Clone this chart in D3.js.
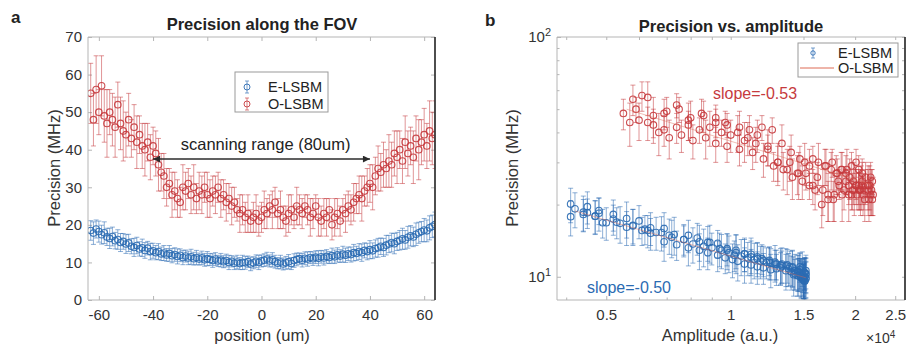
<!DOCTYPE html>
<html>
<head>
<meta charset="utf-8">
<script src="https://cdn.jsdelivr.net/npm/d3@7"></script>
<style>
  body { margin: 0; background: #fff; }
  svg { display: block; font-family: "Liberation Sans", Arial, Helvetica, sans-serif; }
</style>
</head>
<body>
<svg id="chart" width="907" height="345"></svg>
<script>
// sample positions along the FOV (um)
var positions = [
  -63,-62,-61,-60,-59,-58,-57,-56,-55,-54,-53,-52,-51,-50,-49,-48,
  -47,-46,-45,-44,-43,-42,-41,-40,-39,-38,-37,-36,-35,-34,-33,-32,
  -31,-30,-29,-28,-27,-26,-25,-24,-23,-22,-21,-20,-19,-18,-17,-16,
  -15,-14,-13,-12,-11,-10,-9,-8,-7,-6,-5,-4,-3,-2,-1,0,
  1,2,3,4,5,6,7,8,9,10,11,12,13,14,15,16,
  17,18,19,20,21,22,23,24,25,26,27,28,29,30,31,32,
  33,34,35,36,37,38,39,40,41,42,43,44,45,46,47,48,
  49,50,51,52,53,54,55,56,57,58,59,60,61,62,63,64];

// precision (MHz)
var eLsbm = [
  18.5,17.8,18.9,18.2,17.4,17.9,16.8,16.4,16.9,15.8,16.1,15.3,15.6,14.9,15.2,14.3,
  14.0,14.5,13.6,13.9,13.2,13.8,12.9,13.1,12.6,12.9,12.3,12.5,12.0,12.4,11.8,12.1,
  11.6,11.9,11.3,11.7,11.2,11.5,11.0,11.3,10.9,11.2,10.7,11.0,10.8,10.5,10.9,10.4,
  10.6,10.2,10.5,10.0,10.3,9.8,10.1,9.7,10.0,9.9,10.2,9.6,9.9,10.3,10.0,10.4,
  10.6,10.9,10.4,10.7,10.2,9.8,10.1,9.6,9.9,10.2,9.7,10.5,10.8,11.0,10.6,11.1,
  10.9,11.3,11.0,11.4,11.1,11.5,11.2,11.6,11.3,11.8,11.5,12.0,11.7,12.2,11.9,12.3,
  12.1,12.6,12.4,12.9,12.6,13.2,12.9,13.4,13.1,13.7,13.9,14.3,14.0,14.6,14.9,15.3,
  15.0,15.6,15.9,16.3,16.0,16.7,17.1,16.8,17.5,17.9,18.2,18.6,18.4,19.2,19.6,20.1];
var eLsbmErr = [
  2.6,3.0,2.4,2.8,2.5,2.9,2.3,2.7,2.5,2.2,2.6,2.4,2.1,2.5,2.3,2.0,
  2.4,2.2,1.9,2.3,2.1,1.8,2.2,2.0,1.9,2.1,1.8,2.0,1.7,2.1,1.9,1.8,
  2.0,1.7,1.9,1.6,1.8,2.0,1.7,1.9,1.6,1.8,1.7,1.9,1.6,1.8,1.7,1.5,
  1.8,1.6,1.7,1.9,1.5,1.7,1.8,1.6,1.9,1.7,1.5,1.8,1.6,1.7,1.9,1.6,
  1.7,1.8,1.6,1.9,1.7,1.5,1.8,1.6,1.7,1.9,1.6,1.8,1.7,1.5,1.8,1.7,
  1.9,1.6,1.8,1.7,2.0,1.7,1.9,1.8,1.6,2.0,1.8,1.9,1.7,2.1,1.9,1.8,
  2.0,2.2,1.9,2.1,2.3,2.0,2.2,2.4,2.1,2.3,2.5,2.2,2.4,2.6,2.3,2.5,
  2.7,2.4,2.6,2.8,2.5,2.9,2.7,2.6,3.0,2.8,2.7,3.1,2.9,3.2,3.0,3.3];
var oLsbm = [
  55,48,56,50,57,49,47,50,48,46,52,47,45,44,48,43,
  46,42,44,41,40,42,38,41,39,36,34,33,30,31,28,29,
  27,26,30,29,31,28,30,27,29,28,30,28,27,29,28,30,
  27,28,26,27,25,26,24,23,24,22,23,21,22,23,21,22,
  24,23,25,24,26,23,24,22,21,23,24,22,25,24,23,25,
  24,22,23,25,22,21,23,22,24,20,22,23,21,24,23,25,
  24,26,27,28,27,29,30,31,30,33,35,34,36,35,37,36,
  39,38,40,37,42,39,41,38,43,40,42,44,41,45,43,44];
var oLsbmErr = [
  8,7,9,6,8,7,9,6,7,8,6,7,8,6,7,5,
  6,7,5,6,7,5,6,5,6,7,5,6,5,4,6,5,
  5,4,6,5,4,5,6,4,5,5,4,6,5,4,5,4,
  5,4,5,4,5,4,3,5,4,4,5,3,4,5,4,4,
  5,4,3,5,4,4,5,3,4,5,4,3,5,4,4,3,
  4,5,4,3,5,4,4,5,3,4,5,4,4,3,5,4,
  4,5,4,5,6,4,5,5,6,5,6,5,6,5,7,6,
  6,7,5,6,7,6,5,7,6,8,6,7,6,8,7,9];

// amplitude (x10^4 a.u.) of the same samples
var eAmplitude = [
  0.45,0.41,0.48,0.44,0.52,0.47,0.49,0.58,0.53,0.62,0.56,0.66,0.61,0.71,0.64,0.77,
  0.69,0.83,0.74,0.88,0.79,0.93,0.84,0.98,0.88,1.03,0.93,1.08,0.97,1.12,1.01,1.16,
  1.04,1.19,1.08,1.24,1.12,1.28,1.16,1.33,1.20,1.37,1.25,1.41,1.29,1.45,1.32,1.47,
  1.36,1.49,1.40,1.51,1.43,1.52,1.46,1.50,1.48,1.52,1.47,1.51,1.49,1.52,1.50,1.51,
  1.52,1.49,1.51,1.47,1.52,1.50,1.45,1.51,1.48,1.42,1.50,1.46,1.38,1.47,1.43,1.33,
  1.41,1.29,1.39,1.25,1.36,1.22,1.32,1.18,1.28,1.14,1.24,1.10,1.20,1.06,1.16,1.02,
  1.12,0.99,1.08,0.95,1.03,0.90,0.98,0.86,0.94,0.81,0.89,0.77,0.84,0.72,0.79,0.68,
  0.73,0.63,0.69,0.58,0.64,0.54,0.60,0.50,0.56,0.47,0.52,0.44,0.48,0.42,0.45,0.41];
var oAmplitude = [
  0.58,0.55,0.63,0.59,0.61,0.70,0.65,0.75,0.69,0.80,0.74,0.86,0.79,0.92,0.85,0.98,
  0.92,1.05,0.97,1.11,1.04,1.19,1.10,1.26,1.16,1.33,1.23,1.40,1.30,1.47,1.37,1.55,
  1.45,1.62,1.51,1.69,1.58,1.75,1.63,1.81,1.70,1.86,1.76,1.91,1.80,1.96,1.85,2.01,
  1.90,2.04,1.94,2.08,1.98,2.12,2.01,2.15,2.04,2.18,2.06,2.20,2.09,2.19,2.11,2.21,
  2.17,2.10,2.20,2.07,2.18,2.04,2.15,2.02,2.16,1.99,2.12,1.96,2.08,1.93,2.05,1.90,
  2.01,1.86,1.97,1.82,1.93,1.77,1.88,1.72,1.83,1.66,1.78,1.60,1.72,1.55,1.67,1.49,
  1.58,1.41,1.52,1.34,1.46,1.27,1.39,1.20,1.30,1.13,1.23,1.05,1.15,0.98,1.08,0.92,
  1.00,0.87,0.95,0.81,0.89,0.76,0.84,0.71,0.79,0.67,0.74,0.63,0.69,0.60,0.65,0.57];

// power-law fits (amplitude, precision)
var eFit = [[0.42, 18.8], [1.52, 9.9]];
var oFit = [[0.56, 50], [2.2, 24.2]];

var seriesNames = ["E-LSBM", "O-LSBM"];
var slopeLabels = ["slope=-0.50", "slope=-0.53"];

var xTicksA = [-60, -40, -20, 0, 20, 40, 60];
var yTicksA = [0, 10, 20, 30, 40, 50, 60, 70];
var xTicksB = [0.5, 1, 1.5, 2, 2.5];
var xMinorB = [0.4, 0.6, 0.7, 0.8, 0.9];
var yTicksB = [10, 100];
var yMinorB = [20, 30, 40, 50, 60, 70, 80, 90];

var blue = "#2b6bb2", red = "#c63a3d", fitColor = "#dd6a55";
var axisGray = "#b5b5b5", textGray = "#333333";

var svg = d3.select("#chart");
svg.append("rect").attr("width", 907).attr("height", 345).attr("fill", "#fff");

var defs = svg.append("defs");
defs.append("marker")
  .attr("id", "arrow")
  .attr("viewBox", "0 0 10 10")
  .attr("refX", 10).attr("refY", 5)
  .attr("markerWidth", 9).attr("markerHeight", 7)
  .attr("markerUnits", "userSpaceOnUse")
  .attr("orient", "auto-start-reverse")
  .append("path")
  .attr("d", "M0,0 L10,5 L0,10 z")
  .attr("fill", "#2b2b2b");

function clip(id, x0, y0, x1, y1) {
  defs.append("clipPath").attr("id", id)
    .append("rect").attr("x", x0).attr("y", y0).attr("width", x1 - x0).attr("height", y1 - y0);
}

function styleAxis(g) {
  g.select(".domain").remove();
  g.selectAll(".tick line").attr("stroke", axisGray);
  g.selectAll(".tick text").attr("fill", textGray).style("font-size", "15px");
}

function errorSeries(g, xs, ys, errs, x, y, color) {
  var pts = xs.map(function (d, i) { return { x: d, y: ys[i], e: errs[i] }; });
  var bars = g.append("g")
    .attr("stroke", color)
    .attr("stroke-opacity", 0.6)
    .attr("stroke-width", 0.9)
    .attr("fill", "none");
  bars.selectAll("path")
    .data(pts)
    .enter()
    .append("path")
    .attr("d", function (d) {
      var cx = x(d.x), lo = y(d.y - d.e), hi = y(d.y + d.e);
      return "M" + cx + "," + lo + "V" + hi +
        "M" + (cx - 2.5) + "," + hi + "H" + (cx + 2.5) +
        "M" + (cx - 2.5) + "," + lo + "H" + (cx + 2.5);
    });
  g.append("g")
    .selectAll("circle")
    .data(pts)
    .enter()
    .append("circle")
    .attr("cx", function (d) { return x(d.x); })
    .attr("cy", function (d) { return y(d.y); })
    .attr("r", 3.3)
    .attr("fill", "none")
    .attr("stroke", color)
    .attr("stroke-opacity", 0.9)
    .attr("stroke-width", 1.1);
}

function errorIcon(g, cx, cy, color, small) {
  var h = small ? 5 : 6;
  g.append("path")
    .attr("d", "M" + cx + "," + (cy - h) + "V" + (cy + h) +
      "M" + (cx - 2) + "," + (cy - h) + "H" + (cx + 2) +
      "M" + (cx - 2) + "," + (cy + h) + "H" + (cx + 2))
    .attr("stroke", color).attr("stroke-opacity", 0.7).attr("stroke-width", 0.9).attr("fill", "none");
  g.append("circle")
    .attr("cx", cx).attr("cy", cy).attr("r", small ? 2.2 : 3)
    .attr("fill", "none").attr("stroke", color).attr("stroke-width", 0.9);
}

function frame(g, x0, y0, x1, y1) {
  g.append("path")
    .attr("d", "M" + x1 + "," + y0 + "H" + x0 + "V" + y1 + "H" + x1)
    .attr("fill", "none").attr("stroke", axisGray).attr("stroke-width", 1);
  g.append("line")
    .attr("x1", x1).attr("x2", x1).attr("y1", y0).attr("y2", y1)
    .attr("stroke", "#3a3a3a").attr("stroke-width", 1.8);
}

// ---------------- panel a ----------------
var xA = d3.scaleLinear().domain([-64, 64]).range([88, 435]);
var yA = d3.scaleLinear().domain([0, 70]).range([300, 37]);
clip("clipA", 88, 37, 435, 300);

var gA = svg.append("g");
gA.append("g").attr("transform", "translate(0,300)")
  .call(d3.axisBottom(xA).tickValues(xTicksA).tickSizeInner(-4).tickSizeOuter(0).tickPadding(9)
    .tickFormat(function (d) { return String(d); }))
  .call(styleAxis);
gA.append("g").attr("transform", "translate(0,37)")
  .call(d3.axisTop(xA).tickValues(xTicksA).tickSizeInner(-4).tickSizeOuter(0).tickFormat(""))
  .call(styleAxis);
gA.append("g").attr("transform", "translate(88,0)")
  .call(d3.axisLeft(yA).tickValues(yTicksA).tickSizeInner(-4).tickSizeOuter(0).tickPadding(6))
  .call(styleAxis);
gA.append("g").attr("transform", "translate(435,0)")
  .call(d3.axisRight(yA).tickValues(yTicksA).tickSizeInner(-4).tickSizeOuter(0).tickFormat(""))
  .call(styleAxis);

var plotA = gA.append("g").attr("clip-path", "url(#clipA)");
errorSeries(plotA, positions, eLsbm, eLsbmErr, xA, yA, blue);
errorSeries(plotA, positions, oLsbm, oLsbmErr, xA, yA, red);
frame(gA, 88, 37, 435, 300);

// scanning range arrow
gA.append("line")
  .attr("x1", xA(-40)).attr("x2", xA(40))
  .attr("y1", yA(37.5)).attr("y2", yA(37.5))
  .attr("stroke", "#2b2b2b").attr("stroke-width", 1.5)
  .attr("marker-start", "url(#arrow)").attr("marker-end", "url(#arrow)");
gA.append("text")
  .attr("x", xA(1.5)).attr("y", yA(40))
  .attr("text-anchor", "middle")
  .style("font-size", "16.5px").attr("fill", "#222")
  .text("scanning range (80um)");

// legend a
var legA = gA.append("g");
legA.append("rect").attr("x", 235).attr("y", 72).attr("width", 93).attr("height", 40)
  .attr("fill", "#fff").attr("stroke", "#9a9a9a").attr("stroke-width", 1);
errorIcon(legA, 247, 87, blue, false);
errorIcon(legA, 247, 104, red, false);
legA.selectAll("text.lab")
  .data(seriesNames)
  .enter()
  .append("text")
  .attr("x", 268)
  .attr("y", function (d, i) { return i ? 104 : 87; })
  .attr("dy", "0.36em")
  .style("font-size", "14.5px").attr("fill", "#222")
  .text(function (d) { return d; });

gA.append("text").attr("x", 262).attr("y", 30).attr("text-anchor", "middle")
  .style("font-size", "16.5px").style("font-weight", "bold").attr("fill", "#222")
  .text("Precision along the FOV");
gA.append("text").attr("x", 262).attr("y", 341).attr("text-anchor", "middle")
  .style("font-size", "16.5px").attr("fill", textGray)
  .text("position (um)");
gA.append("text").attr("transform", "translate(60,168) rotate(-90)").attr("text-anchor", "middle")
  .style("font-size", "16.5px").attr("fill", textGray)
  .text("Precision (MHz)");
svg.append("text").attr("x", 11).attr("y", 23)
  .style("font-size", "17px").style("font-weight", "bold").attr("fill", "#222").text("a");

// ---------------- panel b ----------------
var xB = d3.scaleLog().domain([0.38, 2.64]).range([557, 905]);
var yB = d3.scaleLog().domain([8, 100]).range([300, 37]);
clip("clipB", 557, 37, 905, 300);

var gB = svg.append("g");
gB.append("g").attr("transform", "translate(0,300)")
  .call(d3.axisBottom(xB).tickValues(xTicksB).tickSizeInner(-4).tickSizeOuter(0).tickPadding(9)
    .tickFormat(function (d) { return String(d); }))
  .call(styleAxis);
gB.append("g").attr("transform", "translate(0,300)")
  .call(d3.axisBottom(xB).tickValues(xMinorB).tickSizeInner(-2.5).tickSizeOuter(0).tickFormat(""))
  .call(styleAxis);
gB.append("g").attr("transform", "translate(0,37)")
  .call(d3.axisTop(xB).tickValues(xTicksB.concat(xMinorB)).tickSizeInner(-3).tickSizeOuter(0).tickFormat(""))
  .call(styleAxis);
gB.append("g").attr("transform", "translate(557,0)")
  .call(d3.axisLeft(yB).tickValues(yTicksB).tickSizeInner(-4).tickSizeOuter(0).tickPadding(6)
    .tickFormat(function () { return "10"; }))
  .call(styleAxis)
  .selectAll(".tick text")
  .each(function (d) {
    d3.select(this).append("tspan")
      .attr("dy", "-0.55em").style("font-size", "11px")
      .text(Math.round(Math.log10(d)));
  });
gB.append("g").attr("transform", "translate(557,0)")
  .call(d3.axisLeft(yB).tickValues(yMinorB).tickSizeInner(-2.5).tickSizeOuter(0).tickFormat(""))
  .call(styleAxis);
gB.append("g").attr("transform", "translate(905,0)")
  .call(d3.axisRight(yB).tickValues(yTicksB.concat(yMinorB)).tickSizeInner(-3).tickSizeOuter(0).tickFormat(""))
  .call(styleAxis);

var plotB = gB.append("g").attr("clip-path", "url(#clipB)");
errorSeries(plotB, eAmplitude, eLsbm, eLsbmErr, xB, yB, blue);
errorSeries(plotB, oAmplitude, oLsbm, oLsbmErr, xB, yB, red);
var fitLine = d3.line().x(function (d) { return xB(d[0]); }).y(function (d) { return yB(d[1]); });
[eFit, oFit].forEach(function (f) {
  plotB.append("path").attr("d", fitLine(f))
    .attr("fill", "none").attr("stroke", fitColor).attr("stroke-opacity", 0.55).attr("stroke-width", 0.8);
});
frame(gB, 557, 37, 905, 300);

gB.append("text").attr("x", xB(0.906)).attr("y", yB(55))
  .style("font-size", "16px").attr("fill", red).text(slopeLabels[1]);
gB.append("text").attr("x", xB(0.449)).attr("y", yB(8.55))
  .style("font-size", "16px").attr("fill", blue).text(slopeLabels[0]);

// legend b
var legB = gB.append("g");
legB.append("rect").attr("x", 798).attr("y", 43).attr("width", 100).attr("height", 34)
  .attr("fill", "#fff").attr("stroke", "#9a9a9a").attr("stroke-width", 1);
errorIcon(legB, 813, 53, blue, true);
legB.append("line").attr("x1", 800).attr("x2", 834).attr("y1", 68).attr("y2", 68)
  .attr("stroke", fitColor).attr("stroke-width", 1);
legB.selectAll("text.lab")
  .data(seriesNames)
  .enter()
  .append("text")
  .attr("x", 838)
  .attr("y", function (d, i) { return i ? 68 : 53; })
  .attr("dy", "0.36em")
  .style("font-size", "14.5px").attr("fill", "#222")
  .text(function (d) { return d; });

gB.append("text").attr("x", 731).attr("y", 32).attr("text-anchor", "middle")
  .style("font-size", "16.5px").style("font-weight", "bold").attr("fill", "#222")
  .text("Precision vs. amplitude");
gB.append("text").attr("x", 720).attr("y", 341).attr("text-anchor", "middle")
  .style("font-size", "16.5px").attr("fill", textGray)
  .text("Amplitude (a.u.)");
var mult = gB.append("text").attr("x", 866).attr("y", 343)
  .style("font-size", "14px").attr("fill", textGray).text("\u00d710");
mult.append("tspan").attr("dy", "-0.55em").style("font-size", "10px").text("4");
gB.append("text").attr("transform", "translate(518,168) rotate(-90)").attr("text-anchor", "middle")
  .style("font-size", "16.5px").attr("fill", textGray)
  .text("Precision (MHz)");
svg.append("text").attr("x", 485).attr("y", 26)
  .style("font-size", "17px").style("font-weight", "bold").attr("fill", "#222").text("b");
</script>
</body>
</html>
